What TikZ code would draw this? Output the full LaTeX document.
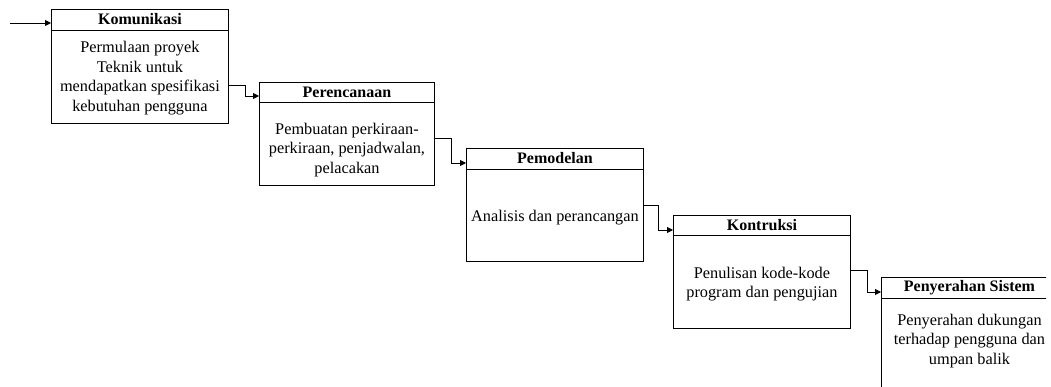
\documentclass[tikz,border=0pt]{standalone}
\usepackage{fontspec}
\setmainfont{Liberation Serif}
\usetikzlibrary{calc,arrows.meta}
\begin{document}
\begin{tikzpicture}[x=1pt,y=-1pt,
  box/.style={draw=black,line width=0.9pt,rectangle,anchor=north west,inner sep=0pt},
  hdr/.style={font=\fontsize{16}{19}\selectfont\bfseries,inner sep=0pt},
  body/.style={font=\fontsize{16.3}{19.5}\selectfont,align=center,inner sep=0pt},
  arr/.style={line width=0.9pt,-{Triangle[length=6pt,width=6pt]}}]
\useasboundingbox (0,0) rectangle (1051,387);
\clip (0,0) rectangle (1046,387);
% boxes
\node[box,minimum width=177,minimum height=114] (b1) at (51,9) {};
\node[box,minimum width=175,minimum height=103] (b2) at (259,82) {};
\node[box,minimum width=177,minimum height=113] (b3) at (466,148) {};
\node[box,minimum width=177,minimum height=113] (b4) at (673,215) {};
\node[box,minimum width=176,minimum height=113] (b5) at (881,277) {};
% header lines
\draw[line width=0.9pt] ($(b1.north west)+(0,21)$) -- ($(b1.north east)+(0,21)$);
\draw[line width=0.9pt] ($(b2.north west)+(0,20)$) -- ($(b2.north east)+(0,20)$);
\draw[line width=0.9pt] ($(b3.north west)+(0,21)$) -- ($(b3.north east)+(0,21)$);
\draw[line width=0.9pt] ($(b4.north west)+(0,20)$) -- ($(b4.north east)+(0,20)$);
\draw[line width=0.9pt] ($(b5.north west)+(0,21)$) -- ($(b5.north east)+(0,21)$);
% headers
\node[hdr] (h1) at ($(b1.north)+(0,10.5)$) {Komunikasi};
\node[hdr] (h2) at ($(b2.north)+(0,10)$) {Perencanaan};
\node[hdr] (h3) at ($(b3.north)+(0,10.5)$) {Pemodelan};
\node[hdr] (h4) at ($(b4.north)+(0,10)$) {Kontruksi};
\node[hdr] (h5) at ($(b5.north)+(0,10.5)$) {Penyerahan Sistem};
% bodies
\node[body] (d1) at ($(b1.north)+(0,69)$) {Permulaan proyek\\Teknik untuk\\mendapatkan spesifikasi\\kebutuhan pengguna};
\node[body] (d2) at ($(b2.north)+(0,68)$) {Pembuatan perkiraan-\\perkiraan, penjadwalan,\\pelacakan};
\node[body] (d3) at ($(b3.north)+(0,70)$) {Analisis dan perancangan};
\node[body] (d4) at ($(b4.north)+(0,69)$) {Penulisan kode-kode\\program dan pengujian};
\node[body] (d5) at ($(b5.north)+(0,64)$) {Penyerahan dukungan\\terhadap pengguna dan\\umpan balik};
% connectors
\coordinate (s0) at (10,23);
\draw[arr] (s0) -- ($(b1.north west)+(0,14)$);
\draw[arr] ($(b1.north east)+(0,76)$) -- ++(17,0) |- ($(b2.north west)+(0,14)$);
\draw[arr] ($(b2.north east)+(0,56)$) -- ++(17,0) |- ($(b3.north west)+(0,15)$);
\draw[arr] ($(b3.north east)+(0,57)$) -- ++(15,0) |- ($(b4.north west)+(0,15)$);
\draw[arr] ($(b4.north east)+(0,55)$) -- ++(17,0) |- ($(b5.north west)+(0,15)$);
\end{tikzpicture}
\end{document}
